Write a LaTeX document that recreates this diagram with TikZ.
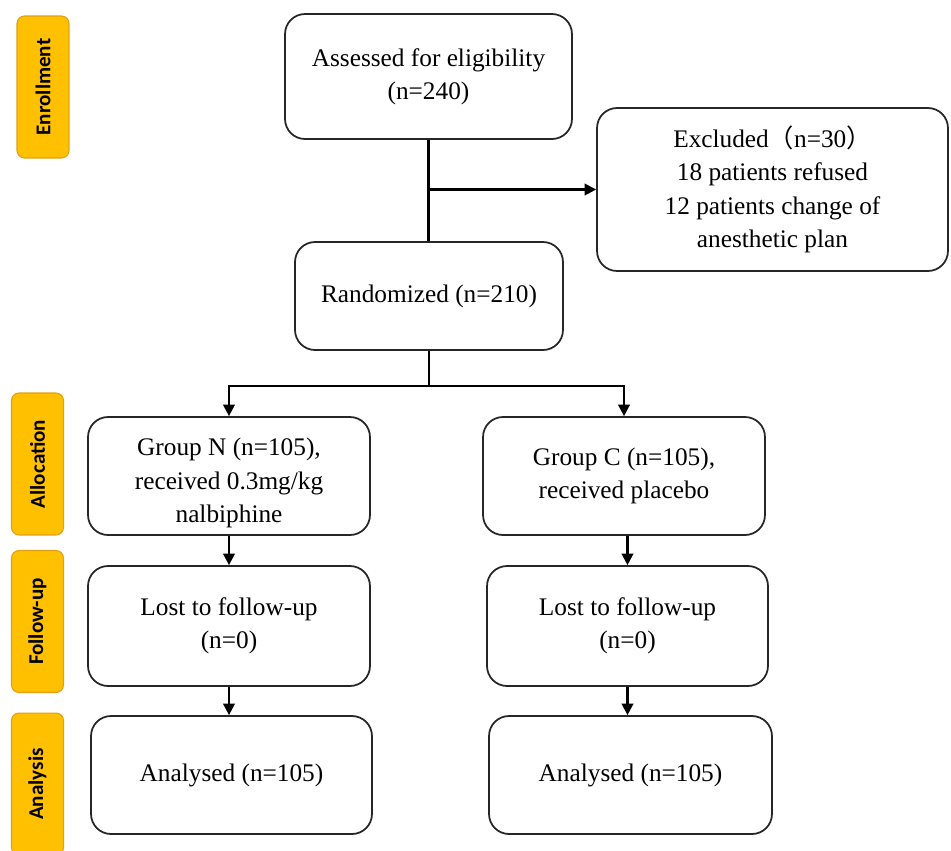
\documentclass[tikz,border=0pt]{standalone}
\usepackage{fontspec}
\setmainfont{Liberation Serif}
\setsansfont{Carlito}
\newfontfamily\cjk{Noto Sans CJK SC}
\usetikzlibrary{arrows.meta,positioning,calc}

\definecolor{phasefill}{RGB}{255,192,0}
\definecolor{phaseline}{RGB}{225,160,20}

\begin{document}
\begin{tikzpicture}[x=0.02cm,y=-0.02cm,
  box/.style={draw=black!85,line width=1pt,rounded corners=0.4cm,align=center,
    font=\fontsize{14.4}{19}\selectfont},
  phase/.style={draw=phaseline,fill=phasefill,line width=0.6pt,rounded corners=0.15cm,
    rotate=90,minimum width=2.84cm,minimum height=1.04cm,inner sep=0pt,
    font=\sffamily\bfseries\fontsize{12}{14}\selectfont},
  link/.style={line width=1.3pt},
  arrow/.style={line width=1.3pt,-{Triangle[length=6.5pt,width=6.5pt]}}]
\useasboundingbox (0,0) rectangle (951,850);
% phases
\node [phase] (enroll) at (43,87) {Enrollment};
\node [phase] (alloc) at (37.5,464) {Allocation};
\node [phase] (follow) at (37.5,621.5) {Follow-up};
\node [phase] (analys) at (37.5,784) {Analysis};
% boxes
\node [box,minimum width=5.74cm,minimum height=2.5cm] (assess) at (428.5,76.5)
  {Assessed for eligibility\\(n=240)};
\node [box,minimum width=7.02cm,minimum height=3.26cm] (excl) at (772.5,189.5)
  {Excluded{\cjk（}n=30{\cjk）}\\18 patients refused\\12 patients change of\\anesthetic plan};
\node [box,minimum width=5.36cm,minimum height=2.16cm] (rand) at (429,296)
  {Randomized (n=210)};
\node [box,minimum width=5.64cm,minimum height=2.36cm] (grpn) at (229,476) {};
\node [align=center,font=\fontsize{14.4}{19}\selectfont] (grpntext) at (229,483)
  {Group N (n=105),\\received 0.3mg/kg\\nalbiphine};
\node [box,minimum width=5.64cm,minimum height=2.36cm] (grpc) at (624,476)
  {Group C (n=105),\\received placebo};
\node [box,minimum width=5.64cm,minimum height=2.4cm] (lostn) at (229,626)
  {Lost to follow-up\\(n=0)};
\node [box,minimum width=5.62cm,minimum height=2.4cm] (lostc) at (627.5,626)
  {Lost to follow-up\\(n=0)};
\node [box,minimum width=5.62cm,minimum height=2.36cm] (anan) at (231.5,775)
  {Analysed (n=105)};
\node [box,minimum width=5.66cm,minimum height=2.36cm] (anac) at (630.5,775)
  {Analysed (n=105)};
% connectors
\coordinate (exclsplit) at (assess.south |- excl.west);
\coordinate (randsplit) at ($(rand.south)+(0,35)$);
\draw [link] (assess.south) -- (assess.south |- rand.north);
\draw [arrow] (exclsplit) -- (excl.west);
\draw [link] (rand.south) -- (randsplit);
\draw [arrow] (randsplit) -| (grpn.north);
\draw [arrow] (randsplit) -| (grpc.north);
\draw [arrow] (grpn.south) -- (lostn.north);
\draw [arrow] (lostn.south) -- (lostn.south |- anan.north);
\draw [arrow] (grpc.south -| lostc.north) -- (lostc.north);
\draw [arrow] (lostc.south) -- (lostc.south |- anac.north);
\end{tikzpicture}
\end{document}
